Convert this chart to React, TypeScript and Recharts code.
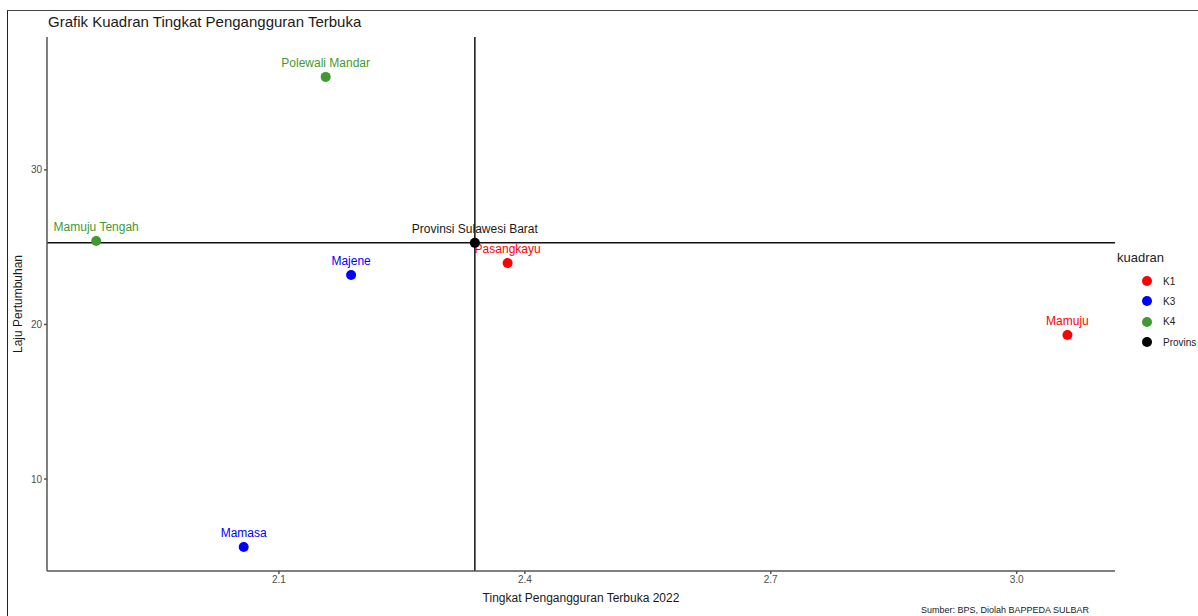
import React from "react";
import { ScatterChart, Scatter, XAxis, YAxis, ReferenceLine } from "recharts";

const FONT = "'Liberation Sans', Arial, sans-serif";

const K1 = [
  { name: "Pasangkayu", tpt: 2.379, laju: 23.98 },
  { name: "Mamuju", tpt: 3.062, laju: 19.32 },
];
const K3 = [
  { name: "Majene", tpt: 2.188, laju: 23.2 },
  { name: "Mamasa", tpt: 2.057, laju: 5.6 },
];
const K4 = [
  { name: "Polewali Mandar", tpt: 2.157, laju: 36.02 },
  { name: "Mamuju Tengah", tpt: 1.877, laju: 25.4 },
];
const PROVINSI = [{ name: "Provinsi Sulawesi Barat", tpt: 2.339, laju: 25.28 }];

const X_TICKS = [2.1, 2.4, 2.7, 3.0];
const Y_TICKS = [10, 20, 30];

const GROUPS = [
  { key: "K1", data: K1, color: "#ff0000" },
  { key: "K3", data: K3, color: "#0000ff" },
  { key: "K4", data: K4, color: "#3f9a34" },
  { key: "Provins", data: PROVINSI, color: "#000000" },
];

function pointShape(color: string) {
  return (props: any) => {
    const { cx, cy, payload } = props;
    return (
      <g>
        <circle cx={cx} cy={cy} r={5} fill={color} />
        <text
          x={cx}
          y={cy - 10}
          textAnchor="middle"
          fontSize={12}
          fontFamily={FONT}
          fill={color === "#000000" ? "#1a1a1a" : color}
        >
          {payload.name}
        </text>
      </g>
    );
  };
}

function LegendBox() {
  return (
    <div style={{ fontFamily: FONT, color: "#222" }}>
      <div style={{ fontSize: 13, marginBottom: 6 }}>kuadran</div>
      {GROUPS.map((g) => (
        <div
          key={g.key}
          style={{ display: "flex", alignItems: "center", height: 20.3 }}
        >
          <span
            style={{
              width: 10,
              height: 10,
              borderRadius: 5,
              background: g.color,
              marginLeft: 25,
              marginRight: 11,
            }}
          />
          <span style={{ fontSize: 10 }}>{g.key}</span>
        </div>
      ))}
    </div>
  );
}

export default function App() {
  return (
    <div
      style={{
        position: "fixed",
        left: 0,
        top: 0,
        width: 1198,
        height: 616,
        background: "#fff",
        overflow: "hidden",
      }}
    >
      <div
        style={{
          position: "absolute",
          left: 7,
          top: 10,
          right: 0,
          bottom: 0,
          borderLeft: "1.5px solid #222",
          borderTop: "1.5px solid #444",
        }}
      />
      <div
        style={{
          position: "absolute",
          left: 48,
          top: 13,
          fontFamily: FONT,
          fontSize: 15,
          color: "#1a1a1a",
        }}
      >
        Grafik Kuadran Tingkat Pengangguran Terbuka
      </div>
      <div
        style={{
          position: "absolute",
          left: 921,
          top: 605,
          fontFamily: FONT,
          fontSize: 9,
          color: "#1a1a1a",
        }}
      >
        Sumber: BPS, Diolah BAPPEDA SULBAR
      </div>
      <div style={{ position: "absolute", left: 1117, top: 250, width: 81 }}>
        <LegendBox />
      </div>
      <div style={{ position: "absolute", left: 0, top: 0 }}>
        <ScatterChart
          width={1198}
          height={616}
          margin={{ top: 37, right: 83, bottom: 0, left: 0 }}
        >
          <XAxis
            type="number"
            dataKey="tpt"
            domain={[1.817, 3.12]}
            ticks={X_TICKS}
            tickFormatter={(v: number) => v.toFixed(1)}
            allowDataOverflow
            height={45}
            stroke="#555"
            strokeWidth={1.5}
            tickSize={3}
            tick={{ fontSize: 10, fill: "#4d4d4d", fontFamily: FONT }}
            label={{
              value: "Tingkat Pengangguran Terbuka 2022",
              position: "insideBottom",
              offset: 14,
              style: { fontSize: 12, fill: "#1a1a1a", fontFamily: FONT },
            }}
          />
          <YAxis
            type="number"
            dataKey="laju"
            domain={[4.05, 38.6]}
            ticks={Y_TICKS}
            allowDataOverflow
            width={47}
            stroke="#555"
            strokeWidth={1.5}
            tickSize={3}
            tick={{ fontSize: 10, fill: "#4d4d4d", fontFamily: FONT }}
            label={{
              value: "Laju Pertumbuhan",
              angle: -90,
              position: "insideLeft",
              offset: 18,
              style: {
                fontSize: 12,
                fill: "#1a1a1a",
                fontFamily: FONT,
                textAnchor: "middle",
              },
            }}
          />
          <ReferenceLine x={2.339} stroke="#111" strokeWidth={1.5} />
          <ReferenceLine y={25.28} stroke="#111" strokeWidth={1.5} />
          {GROUPS.map((g) => (
            <Scatter
              key={g.key}
              name={g.key}
              data={g.data}
              fill={g.color}
              shape={pointShape(g.color)}
              isAnimationActive={false}
            />
          ))}
        </ScatterChart>
      </div>
    </div>
  );
}
